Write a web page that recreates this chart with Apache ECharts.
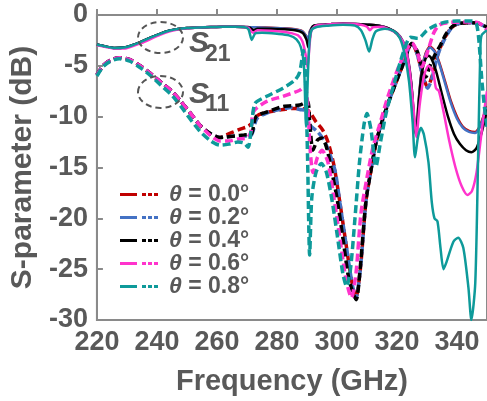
<!DOCTYPE html>
<html>
<head>
<meta charset="utf-8">
<script src="https://cdn.jsdelivr.net/npm/echarts@6/dist/echarts.min.js"></script>
<style>html,body{margin:0;padding:0;background:#fff}#c{width:487px;height:401px}</style>
</head>
<body>
<div id="c"></div>
<script>
// ---- data (frequency GHz, dB) ----
const thetaNames = ['θ = 0.0°','θ = 0.2°','θ = 0.4°','θ = 0.6°','θ = 0.8°'];
const colors = ['#C00000','#4472C4','#000000','#FF33CC','#0E9A9A'];
const xTicks = [220,240,260,280,300,320,340];
const yTicks = [0,-5,-10,-15,-20,-25,-30];

const s21Start = [[220,-2.9],[223,-3.1],[226,-3.25],[229,-3.2],[232,-2.95],[235,-2.6],[238,-2.2],[241,-1.85],[244,-1.55],[247,-1.38],[250,-1.28],[254,-1.22],[258,-1.18],[262,-1.15],[266,-1.15],[269,-1.17]];
const s21Pink = [[220,-2.95],[223,-3.15],[226,-3.3],[229,-3.3],[232,-3.05],[235,-2.75],[238,-2.35],[241,-1.95],[244,-1.62],[247,-1.42],[250,-1.3],[254,-1.22],[258,-1.18],[262,-1.15],[266,-1.15],[269,-1.17]];

const s21_00 = [[271,-1.2],[274,-1.22],[278,-1.25],[282,-1.3],[286,-1.4],[288.5,-1.6],[289.8,-2.1],[290.4,-2.5],[291,-1.6],[292,-1.1],[294,-0.98],[298,-0.9],[302,-0.85],[306,-0.88],[310,-0.95],[314,-1.05],[317,-1.3],[320,-1.8],[322,-2.6],[323.5,-4],[324.8,-6.8],[325.8,-10.5],[326.4,-11.5],[327.2,-8.5],[328.2,-5.5],[329.5,-3.8],[331,-3.1],[332.5,-3.5],[334,-4.6],[336,-6.5],[338,-8.5],[340,-10],[342,-11],[344,-11.4],[346,-11.5],[347.5,-11],[349,-9.8],[350,-9]];
const s21_02 = [[271,-1.2],[274,-1.22],[278,-1.27],[282,-1.32],[286,-1.42],[288.5,-1.62],[289.8,-2.1],[290.4,-2.4],[291,-1.6],[292,-1.1],[294,-0.98],[298,-0.9],[302,-0.85],[306,-0.88],[310,-0.95],[314,-1.05],[317,-1.3],[320,-1.8],[322,-2.6],[323.5,-4],[324.8,-6.8],[325.8,-10.6],[326.4,-11.6],[327.2,-8.6],[328.2,-5.6],[329.5,-3.9],[331,-3.2],[332.5,-3.6],[334,-4.7],[336,-6.7],[338,-8.7],[340,-10.2],[342,-11.1],[344,-11.5],[346,-11.6],[347.5,-11.1],[349,-9.9],[350,-9.1]];
const s21_04 = [[271,-1.25],[272.2,-1.5],[273.5,-1.35],[278,-1.35],[282,-1.4],[286,-1.5],[288.5,-1.75],[289.8,-2.4],[290.5,-3.2],[291.2,-1.7],[292,-1.1],[294,-0.98],[298,-0.9],[302,-0.85],[306,-0.88],[310,-0.95],[314,-1.05],[317,-1.3],[320,-1.85],[322,-2.7],[323.5,-4.2],[324.8,-7],[325.8,-10.8],[326.4,-11.8],[327.2,-8.8],[328.2,-5.8],[329.5,-4.3],[330.5,-4.0],[331.5,-4.3],[333,-5.5],[335,-7.8],[337,-10],[339,-11.7],[341,-12.7],[343,-13.3],[344.8,-13.5],[346.5,-13.1],[348,-11.8],[349.5,-10],[350,-9.3]];
const s21_06 = [[270.5,-1.25],[272,-1.75],[273.5,-1.5],[278,-1.55],[282,-1.65],[285,-1.8],[287,-2.0],[288.5,-2.6],[289.5,-3.8],[290.2,-5.2],[290.8,-3.2],[291.5,-1.5],[293,-1.05],[296,-0.95],[300,-0.85],[304,-0.85],[308,-0.95],[310,-1.15],[311,-1.5],[312,-1.2],[315,-1.15],[318,-1.5],[320.5,-2.0],[322.5,-3],[324,-5],[325.3,-8.5],[326.5,-12],[327.5,-9],[329,-6],[330.5,-5],[332,-5.6],[333,-7.2],[334,-7.5],[335.5,-9.5],[337.5,-12.5],[339.5,-15],[341.5,-16.8],[343.5,-17.7],[345,-17.3],[346.5,-15.5],[348,-12],[349.5,-8.5],[350,-7.5]];
const s21_08 = [[270.5,-1.4],[271.6,-2.45],[272.8,-1.8],[275,-1.75],[280,-1.85],[284,-2.0],[286.5,-2.4],[288,-3.2],[289,-5],[289.7,-11],[290.3,-6],[290.8,-2.8],[291.5,-1.5],[293,-1.2],[297,-1.05],[302,-0.95],[306,-1.05],[308,-1.5],[309.5,-2.5],[310.7,-3.6],[311.8,-2.4],[313,-1.6],[316,-1.35],[319,-1.6],[321,-2.3],[322.5,-3.8],[324,-6.5],[325.2,-10.5],[326,-14],[327,-12],[328,-11.1],[329,-11.8],[330.5,-14.5],[331.6,-18.4],[332.5,-20],[333.5,-20.3],[334.5,-22.9],[335.5,-25],[336.5,-24.3],[338.8,-22.3],[340.4,-21.9],[342.1,-22.9],[343.8,-26.8],[344.8,-30],[346.1,-26.3],[347.1,-13],[347.8,-3.2],[348.2,-2.0],[350,-1.5]];

const s11Start = [[220,-5.9],[222,-5.0],[224.5,-4.45],[227.5,-4.2],[231,-4.4],[235,-5.1],[238,-5.8],[241.3,-6.6],[245,-7.5],[248,-8.5],[251,-9.6],[254.5,-10.9],[258,-11.7],[261,-12.05]];
const s11Rise = [[309.7,-18.2],[311.5,-15],[313,-12.6],[315,-10.5],[317.4,-8.4],[321.7,-5.1],[325,-2.8]];

const s11_00 = [[263,-11.8],[265.5,-11.5],[268,-11.2],[270,-11.0],[271.5,-10.7],[272.5,-10.2],[274,-9.8],[278,-9.5],[282,-9.3],[285,-9.2],[288,-9.2],[290,-9.3],[291.5,-9.8],[293,-10.5],[295.2,-11.3],[297,-12.5],[299,-14.8],[301,-18.5],[303,-22.5],[304.8,-26],[306.3,-27.8],[307.8,-25]];
const s11_00end = [[326.7,-3.8],[328.5,-5.8],[330.2,-7.1],[331.5,-6.2],[333,-4.5],[334,-3.5],[336,-2.2],[338,-1.3],[340,-0.9],[344,-0.75],[347,-0.8],[350,-1.3]];
const s11_02 = [[263,-12.0],[266,-11.9],[269,-11.9],[271.5,-11.8],[273.3,-10.2],[277,-9.6],[281,-9.3],[285,-9.1],[287.6,-9.3],[289.5,-9.4],[291,-10.8],[293.6,-11.5],[296,-12.5],[298,-14],[299.5,-15.5],[301,-18.5],[303,-22.5],[304.8,-26],[306.3,-27.9],[307.8,-25]];
const s11_02end = [[326.7,-3.8],[328.5,-5.9],[330.2,-7.2],[331.5,-6.4],[333,-4.6],[334,-3.6],[336,-2.3],[338,-1.35],[340,-0.9],[344,-0.75],[347,-0.8],[350,-1.3]];
const s11_04 = [[263,-12.0],[266,-11.9],[269,-11.8],[271.5,-11.7],[273,-10],[277,-9.5],[282,-9.0],[287.6,-8.85],[290.2,-8.5],[290.9,-10.5],[292,-13.3],[293.5,-12.3],[295,-12.1],[296.5,-13],[298,-15],[300,-18],[302,-22],[304,-26],[306.4,-28],[307.7,-25]];
const s11_04end = [[326.8,-3.6],[328.2,-5],[329.6,-6.1],[331,-5.0],[332.5,-4],[334.4,-3.0],[336.5,-1.8],[339,-1.0],[343,-0.75],[347,-0.8],[350,-1.2]];
const s11_06 = [[258,-11.9],[261,-12.4],[264,-12.4],[267,-12.2],[270,-12.1],[271.3,-11.5],[272.2,-9.5],[276.6,-8.5],[282,-8.0],[287.6,-7.4],[289.3,-7.0],[290.3,-9],[291,-13],[292,-15.5],[293.5,-14],[295,-13.3],[297,-14.5],[299,-18],[301,-22],[303,-26],[304.8,-27.8],[306.3,-25.5],[308,-19.5],[310,-16],[312,-13],[314,-11],[317,-8],[321,-4.8],[325,-2.75],[326.7,-3.6],[328.3,-5.1],[330,-3.8],[332.2,-1.8],[334,-1.0],[337,-0.75],[342,-0.7],[346,-0.7],[348,-0.9],[350,-1.5]];
const s11_08 = [[220,-6.0],[222,-5.1],[224.5,-4.55],[227.5,-4.3],[231,-4.55],[235,-5.3],[238,-6.0],[241.3,-6.9],[245,-7.9],[248,-9.0],[251,-10.2],[254.5,-11.5],[258,-12.4],[261,-12.8],[264,-12.7],[267,-12.5],[269,-12.6],[270.4,-13],[271.5,-11],[272.7,-8.7],[276.6,-8.0],[282,-7.2],[286,-6.4],[287.6,-5.6],[288.8,-3.5],[289.5,-6],[290.2,-14],[290.9,-23.6],[291.6,-18],[293,-15.5],[294.8,-14.6],[296.5,-15.5],[298.5,-18.5],[300.5,-22.5],[302,-25.5],[303.2,-26.7],[304.5,-25],[306,-20],[307.5,-14.5],[309,-10.8],[310,-9.7],[311.3,-11.2],[313,-14.9],[314.5,-12.5],[316.5,-9.5],[319,-6.8],[322.3,-3.5],[324.5,-2.2],[327,-2.3],[330,-1.5],[333,-1.0],[336,-0.7],[340,-0.6],[345,-0.6],[346.5,-0.9],[347.3,-2.5],[348.3,-6.5],[349.5,-10],[350,-11]];

// ---- build ----
const S21 = [
  s21Start.concat(s21_00), s21Start.concat(s21_02), s21Start.concat(s21_04),
  s21Pink.concat(s21_06), s21Start.concat(s21_08)
];
const S11 = [
  s11Start.concat(s11_00, s11Rise, s11_00end),
  s11Start.concat(s11_02, s11Rise, s11_02end),
  s11Start.concat(s11_04, s11Rise, s11_04end),
  s11Start.slice(0, -2).concat(s11_06),
  s11_08
];
const FONT = '"Liberation Sans", Arial, sans-serif';
const GREY = '#595959';
const AX = '#8a8a8a';

const series = [];
for (let i = 0; i < 5; i++) {
  series.push({
    name: thetaNames[i], type: 'line', data: S21[i], showSymbol: false, symbol: 'none',
    smooth: 0.25, color: colors[i], z: 2 + i,
    lineStyle: { width: 2.5, color: colors[i] }
  });
}
for (let i = 0; i < 5; i++) {
  series.push({
    name: thetaNames[i], type: 'line', data: S11[i], showSymbol: false, symbol: 'none',
    smooth: 0.25, color: colors[i], z: 2 + i,
    lineStyle: { width: 3.5, type: [8, 4], color: colors[i] }
  });
}

const chart = echarts.init(document.getElementById('c'), null, { renderer: 'canvas' });
chart.setOption({
  animation: false,
  backgroundColor: '#fff',
  textStyle: { fontFamily: FONT },
  grid: { left: 95, right: -2, top: 15, bottom: 81, show: true, borderColor: AX, borderWidth: 2, backgroundColor: 'transparent' },
  xAxis: {
    type: 'value', min: 220, max: 350, interval: 20,
    name: 'Frequency (GHz)', nameLocation: 'middle', nameGap: 47,
    nameTextStyle: { fontFamily: FONT, fontSize: 29, fontWeight: 'bold', color: GREY },
    axisLine: { show: true, lineStyle: { color: AX, width: 2 } },
    axisTick: { show: true, inside: true, length: 6, lineStyle: { color: AX, width: 2 } },
    axisLabel: { fontFamily: FONT, fontSize: 27, fontWeight: 'bold', color: GREY, margin: 9, showMaxLabel: false,
      formatter: v => (xTicks.indexOf(v) >= 0 ? String(v) : '') },
    splitLine: { show: false }
  },
  yAxis: {
    type: 'value', min: -30, max: 0, interval: 5,
    name: 'S-parameter (dB)', nameLocation: 'middle', nameGap: 52,
    nameTextStyle: { fontFamily: FONT, fontSize: 30, fontWeight: 'bold', color: GREY },
    axisLine: { show: true, lineStyle: { color: AX, width: 2 } },
    axisTick: { show: true, inside: true, length: 6, lineStyle: { color: AX, width: 2 } },
    axisLabel: { fontFamily: FONT, fontSize: 27, fontWeight: 'bold', color: GREY, margin: 9,
      formatter: v => (yTicks.indexOf(v) >= 0 ? String(v) : '') },
    splitLine: { show: false }
  },
  legend: {
    data: thetaNames, orient: 'vertical', left: 120, top: 183,
    itemWidth: 38, itemHeight: 3, itemGap: 0, padding: 0,
    icon: 'path://M0,0H17V3H0Z M22,0H26V3H22Z M28,0H32V3H28Z M34,0H38V3H34Z',
    selectedMode: false,
    formatter: n => '{i|θ}' + n.slice(1),
    textStyle: { fontFamily: FONT, fontSize: 23, fontWeight: 'bold', color: GREY, lineHeight: 22, padding: [0,0,0,6],
      rich: { i: { fontFamily: FONT, fontSize: 23, fontWeight: 'bold', fontStyle: 'italic', color: GREY, lineHeight: 22 } } }
  },
  graphic: [
    { type: 'ellipse', shape: { cx: 160.5, cy: 37.5, rx: 22.5, ry: 15.5 }, style: { fill: 'none', stroke: '#555', lineWidth: 2, lineDash: [6, 4] }, z: 100 },
    { type: 'ellipse', shape: { cx: 160.5, cy: 92, rx: 22.5, ry: 16 }, style: { fill: 'none', stroke: '#555', lineWidth: 2, lineDash: [6, 4] }, z: 100 },
    { type: 'text', x: 189, y: 44, style: { text: 'S', font: 'italic bold 30px ' + FONT, fill: GREY, textVerticalAlign: 'middle' }, z: 100 },
    { type: 'text', x: 205, y: 55, style: { text: '21', font: 'bold 23px ' + FONT, fill: GREY, textVerticalAlign: 'middle' }, z: 100 },
    { type: 'text', x: 189, y: 95, style: { text: 'S', font: 'italic bold 30px ' + FONT, fill: GREY, textVerticalAlign: 'middle' }, z: 100 },
    { type: 'text', x: 205, y: 105, style: { text: '11', font: 'bold 23px ' + FONT, fill: GREY, textVerticalAlign: 'middle' }, z: 100 }
  ],
  series: series
});
</script>
</body>
</html>
